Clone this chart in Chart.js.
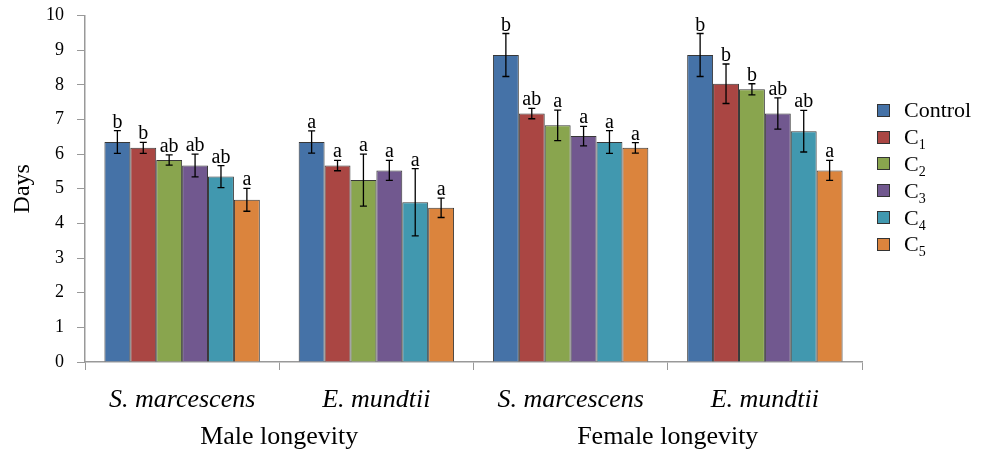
<!DOCTYPE html>
<html>
<head>
<meta charset="utf-8">
<script src="https://cdn.jsdelivr.net/npm/chart.js@4/dist/chart.umd.min.js"></script>
<style>
  body { margin: 0; background: #fff; }
  #wrap { position: relative; width: 984px; height: 456px; }
  #legend { position: absolute; left: 877px; top: 97px; font-family: "Liberation Serif", "Times New Roman", Times, "DejaVu Serif", serif; font-size: 22px; color: #000; }
  #legend .row { height: 26.8px; display: flex; align-items: center; white-space: nowrap; }
  #legend .box { width: 11px; height: 11px; border: 1px solid #333; margin-right: 14px; }
  #legend sub { font-size: 14px; vertical-align: -5px; line-height: 0; }
</style>
</head>
<body>
<div id="wrap">
  <canvas id="longevityChart"></canvas>
  <div id="legend"></div>
</div>
<script>
// ==== data ====
const categories = ['S. marcescens', 'E. mundtii', 'S. marcescens', 'E. mundtii'];
const groupLabels = ['Male longevity', 'Female longevity'];
const seriesNames = ['Control', 'C1', 'C2', 'C3', 'C4', 'C5'];

const control = [6.35, 6.35, 8.86, 8.86];
const c1 = [6.18, 5.67, 7.17, 8.03];
const c2 = [5.83, 5.25, 6.83, 7.87];
const c3 = [5.67, 5.53, 6.52, 7.17];
const c4 = [5.35, 4.61, 6.35, 6.66];
const c5 = [4.68, 4.45, 6.18, 5.53];

// standard errors
const controlErr = [0.33, 0.32, 0.62, 0.62];
const c1Err = [0.16, 0.15, 0.15, 0.57];
const c2Err = [0.15, 0.75, 0.44, 0.16];
const c3Err = [0.33, 0.29, 0.28, 0.45];
const c4Err = [0.32, 0.97, 0.33, 0.60];
const c5Err = [0.33, 0.28, 0.15, 0.29];

// significance letters
const controlLet = ['b', 'a', 'b', 'b'];
const c1Let = ['b', 'a', 'ab', 'b'];
const c2Let = ['ab', 'a', 'a', 'b'];
const c3Let = ['ab', 'a', 'a', 'ab'];
const c4Let = ['ab', 'a', 'a', 'ab'];
const c5Let = ['a', 'a', 'a', 'a'];

const colors = ['#4572A7', '#AA4643', '#89A54E', '#71588F', '#4198AF', '#DB843D'];
const values = [control, c1, c2, c3, c4, c5];
const errors = [controlErr, c1Err, c2Err, c3Err, c4Err, c5Err];
const letters = [controlLet, c1Let, c2Let, c3Let, c4Let, c5Let];

const serif = '"Liberation Serif", "Times New Roman", Times, "DejaVu Serif", serif';

// ==== error bars + letters ====
const errorBarPlugin = {
    id: 'errorBars',
    afterDatasetsDraw(chart) {
        const ctx = chart.ctx;
        const y = chart.scales.y;
        ctx.save();
        chart.data.datasets.forEach((ds, i) => {
            const meta = chart.getDatasetMeta(i);
            meta.data.forEach((bar, j) => {
                const v = ds.data[j];
                const e = ds.err[j];
                const top = y.getPixelForValue(v + e);
                const bot = y.getPixelForValue(v - e);
                ctx.strokeStyle = '#000';
                ctx.lineWidth = 1.3;
                ctx.beginPath();
                ctx.moveTo(bar.x, top);
                ctx.lineTo(bar.x, bot);
                ctx.moveTo(bar.x - 3.5, top);
                ctx.lineTo(bar.x + 3.5, top);
                ctx.moveTo(bar.x - 3.5, bot);
                ctx.lineTo(bar.x + 3.5, bot);
                ctx.stroke();

                ctx.fillStyle = '#000';
                ctx.font = '20px ' + serif;
                ctx.textAlign = 'center';
                ctx.textBaseline = 'alphabetic';
                ctx.fillText(ds.letters[j], bar.x, top - 3);
            });
        });
        ctx.restore();
    }
};

const ctx = document.getElementById('longevityChart').getContext('2d');
const chart = new Chart(ctx, {
    type: 'bar',
    data: {
        labels: categories,
        datasets: seriesNames.map((name, i) => ({
            label: name,
            data: values[i],
            err: errors[i],
            letters: letters[i],
            backgroundColor: colors[i],
            borderColor: 'rgba(20,20,20,0.85)',
            borderWidth: 1,
            barPercentage: 1,
            categoryPercentage: 0.8,
            xAxisID: 'x'
        }))
    },
    options: {
        responsive: true,
        maintainAspectRatio: false,
        animation: false,
        layout: { padding: { top: 15.5, right: 122, bottom: 0, left: 0 } },
        plugins: {
            legend: { display: false },
            tooltip: { enabled: false }
        },
        scales: {
            x: {
                position: 'bottom',
                offset: true,
                grid: { offset: true, drawOnChartArea: false, drawTicks: true, tickLength: 8, color: '#999' },
                border: { color: '#999', width: 1.5 },
                ticks: { color: '#000', font: { family: serif, size: 26, style: 'italic' }, padding: 15, maxRotation: 0 },
                afterFit(scale) { scale.height = 56; }
            },
            x2: {
                type: 'category',
                position: 'bottom',
                labels: groupLabels,
                offset: true,
                grid: { display: false, drawTicks: false },
                border: { display: false },
                ticks: { color: '#000', font: { family: serif, size: 26 }, padding: 4, maxRotation: 0 },
                afterFit(scale) { scale.height = 38; }
            },
            y: {
                min: 0,
                max: 10,
                ticks: { stepSize: 1, color: '#000', font: { family: serif, size: 18 }, padding: 13 },
                grid: { drawOnChartArea: false, drawTicks: true, tickLength: 8, color: '#999' },
                border: { color: '#999', width: 1.5 },
                title: { display: true, text: 'Days', color: '#000', font: { family: serif, size: 24 }, padding: { top: 8, bottom: 8 } },
                afterFit(scale) {
                    scale.width = 85;
                    scale.paddingTop = 0;
                }
            }
        }
    },
    plugins: [errorBarPlugin]
});

// ==== legend with subscripts ====
const legend = document.getElementById('legend');
seriesNames.forEach((name, i) => {
    const row = document.createElement('div');
    row.className = 'row';
    const label = name === 'Control' ? name : 'C<sub>' + name.slice(1) + '</sub>';
    row.innerHTML = '<span class="box" style="background:' + colors[i] + '"></span><span>' + label + '</span>';
    legend.appendChild(row);
});
</script>
</body>
</html>
